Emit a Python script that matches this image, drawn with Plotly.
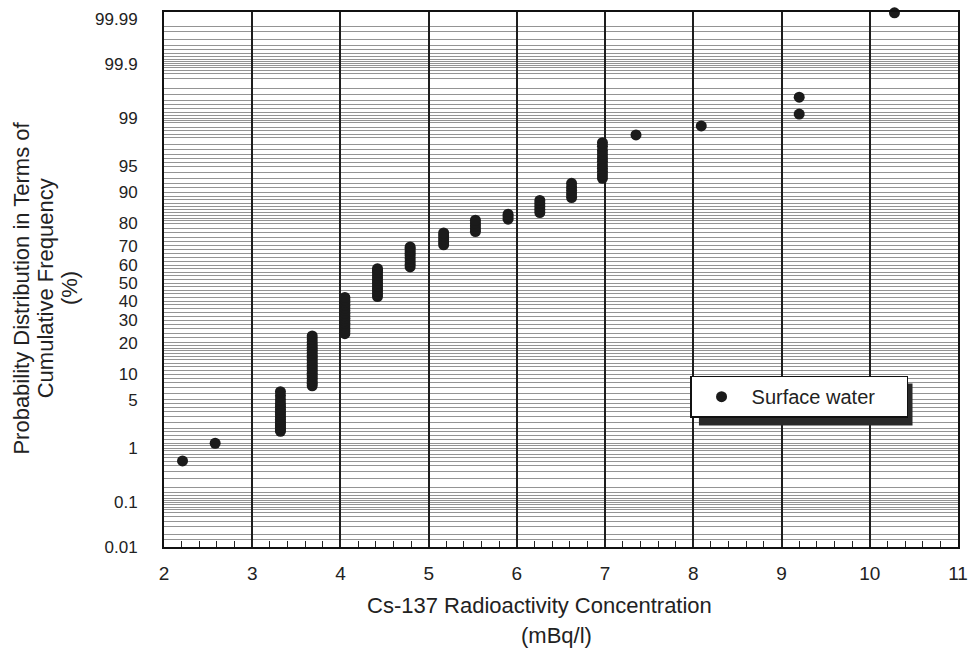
import plotly.graph_objects as go
from statistics import NormalDist

# ---------------- data ----------------
# Cs-137 concentration groups (mBq/l)
group_conc = [2.21, 2.58, 3.32, 3.68, 4.05, 4.42, 4.79, 5.17, 5.53,
              5.90, 6.26, 6.62, 6.97, 7.35, 8.09, 9.20, 10.28]
# cumulative frequency (%) of the samples in each group
group_pct = [
    [0.61],
    [1.2],
    [1.84, 1.95, 2.08, 2.22, 2.38, 2.55, 2.75, 2.95, 3.2, 3.45, 3.75, 4.1,
     4.5, 5.0, 5.6, 6.3],
    [7.4, 7.9, 8.4, 9.0, 9.6, 10.2, 10.9, 11.6, 12.3, 13.0, 13.8, 14.6,
     15.4, 16.3, 17.2, 18.2, 19.2, 20.3, 21.5, 22.8],
    [23.8, 25.0, 26.2, 27.4, 28.6, 29.8, 31.0, 32.3, 33.6, 35.0, 36.4,
     37.8, 39.2, 40.6, 42.0],
    [42.5, 44.0, 45.5, 47.0, 48.5, 50.0, 51.5, 53.0, 54.5, 56.0, 57.2, 58.0],
    [59.0, 60.5, 62.0, 63.5, 65.0, 66.3, 67.5, 68.6, 69.5],
    [70.5, 71.9, 73.3, 74.7, 76.0],
    [76.6, 77.8, 79.0, 80.1, 81.2],
    [81.6, 82.5, 83.4],
    [84.0, 85.0, 86.0, 86.9, 87.8],
    [88.6, 89.5, 90.4, 91.2, 92.0],
    [93.0, 93.6, 94.2, 94.7, 95.2, 95.7, 96.1, 96.5, 96.9, 97.3, 97.6],
    [98.16],
    [98.66],
    [99.14, 99.56],
    [99.993],
]
series_name = "Surface water"

# probability-axis tick labels (%)
prob_ticks = [0.01, 0.1, 1, 5, 10, 20, 30, 40, 50, 60, 70, 80, 90, 95, 99, 99.9, 99.99]
prob_tick_text = ["0.01", "0.1", "1", "5", "10", "20", "30", "40", "50",
                  "60", "70", "80", "90", "95", "99", "99.9", "99.99"]

# ruling of the probability paper (%), lower half; upper half mirrored
paper_lower = [0.015, 0.02, 0.03, 0.04, 0.05, 0.06, 0.07, 0.08, 0.09, 0.1,
               0.11, 0.12, 0.14, 0.16, 0.2, 0.3, 0.4, 0.5, 0.6, 0.7, 0.8, 0.9,
               1, 1.1, 1.2, 1.4, 1.6, 1.8, 2, 2.5, 3, 3.5, 4, 4.5, 5, 6, 7, 8, 9,
               10, 11, 12, 13, 14, 15, 16, 17, 18, 19, 20, 22, 24, 26, 28, 30,
               32, 34, 36, 38, 40, 42, 44, 46, 48, 50]

y_title_lines = ["Probability Distribution in Terms of", "Cumulative Frequency", "(%)"]
x_title_lines = ["Cs-137 Radioactivity Concentration", "(mBq/l)"]

# ---------------- probability (normal quantile) scale ----------------
nd = NormalDist()


def zq(p):
    return nd.inv_cdf(p / 100.0)


xs, zs = [], []
for c, plist in zip(group_conc, group_pct):
    for p in plist:
        xs.append(c)
        zs.append(zq(p))

paper_pct = paper_lower + [round(100 - p, 4) for p in paper_lower if p != 50]
paper_z = [zq(p) for p in paper_pct]

FONT = "Liberation Sans, Arial, Helvetica, sans-serif"
TXT = "#222222"

# plot area in pixels: left 164, right 967, top 10, bottom 547
L, R, T, B = 164, 967, 10, 547


def px(xp):
    return (xp - L) / (R - L)


def py(yp):
    return (B - yp) / (B - T)


fig = go.Figure()
fig.add_trace(go.Scatter(
    x=xs, y=zs, mode="markers", name=series_name,
    marker=dict(color="#1b1b1b", size=11, line=dict(width=0)),
    cliponaxis=False,
    customdata=[round(nd.cdf(v) * 100, 3) for v in zs],
    hovertemplate="%{x} mBq/l<br>%{customdata}%<extra></extra>",
))

annotations = [
    dict(text=x_title_lines[0], xref="paper", yref="paper",
         x=px(544), y=py(606), showarrow=False,
         xanchor="center", yanchor="middle", font=dict(size=22, color=TXT)),
    dict(text=x_title_lines[1], xref="paper", yref="paper",
         x=px(561), y=py(636), showarrow=False,
         xanchor="center", yanchor="middle", font=dict(size=22, color=TXT)),
]
for line, cx in zip(y_title_lines, [20, 45, 69]):
    annotations.append(dict(
        text=line, xref="paper", yref="paper", x=px(cx), y=py(287),
        showarrow=False, textangle=-90, xanchor="center", yanchor="middle",
        font=dict(size=22, color=TXT)))

fig.update_layout(
    width=978, height=648,
    margin=dict(l=L, r=978 - R, t=T, b=648 - B),
    paper_bgcolor="white", plot_bgcolor="white",
    font=dict(family=FONT, size=19, color=TXT),
    showlegend=True,
    legend=dict(
        x=px(696), y=py(375), xanchor="left", yanchor="top",
        bgcolor="white", bordercolor="#111111", borderwidth=1.5,
        font=dict(size=20, color=TXT),
        itemwidth=50, orientation="h", entrywidth=150,
    ),
    xaxis=dict(
        range=[2, 11], tick0=2, dtick=1,
        tickfont=dict(size=19, color=TXT, family=FONT),
        showgrid=True, gridcolor="#1e1e1e", gridwidth=1.6,
        showline=True, linecolor="#111111", linewidth=2, mirror=True,
        ticks="inside", ticklen=6, tickcolor="#222222",
        ticklabelstandoff=8,
        minor=dict(dtick=0.2, ticks="inside", ticklen=6, tickcolor="#222222",
                   showgrid=False),
        zeroline=False,
    ),
    yaxis=dict(
        range=[zq(0.01), 3.82],
        tickmode="array", tickvals=[zq(p) for p in prob_ticks],
        ticktext=prob_tick_text, ticks="", showgrid=False,
        tickfont=dict(size=17, color=TXT, family=FONT),
        ticklabelstandoff=21,
        minor=dict(tickmode="array", tickvals=paper_z, showgrid=True,
                   gridcolor="#949494", gridwidth=1, ticks=""),
        showline=True, linecolor="#111111", linewidth=2, mirror=True,
        zeroline=False,
    ),
    shapes=[dict(type="rect", xref="paper", yref="paper",
                 x0=px(705), x1=px(921), y0=py(425), y1=py(383),
                 fillcolor="#2a2a2a", line=dict(width=0), layer="above")],
    annotations=annotations,
)

fig.write_html("out.html")
